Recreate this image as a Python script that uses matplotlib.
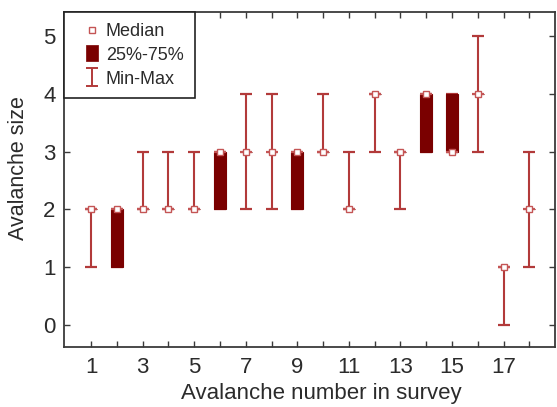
import matplotlib
matplotlib.use("Agg")
import matplotlib.pyplot as plt
from matplotlib.lines import Line2D
from matplotlib.path import Path

# Datos del gráfico
avalanchas = list(range(1, 19))
medianas = [2, 2, 2, 2, 2, 3, 3, 3, 3, 3, 2, 4, 3, 4, 3, 4, 1, 2]
cuartil_25 = [2, 1, 2, 2, 2, 2, 3, 3, 2, 3, 2, 4, 3, 3, 3, 4, 1, 2]
cuartil_75 = [2, 2, 2, 2, 2, 3, 3, 3, 3, 3, 2, 4, 3, 4, 4, 4, 1, 2]
minimos = [1, 1, 2, 2, 2, 2, 2, 2, 2, 3, 2, 3, 2, 3, 3, 3, 0, 1]
maximos = [2, 2, 3, 3, 3, 3, 4, 4, 3, 4, 3, 4, 3, 4, 4, 5, 1, 3]
etiquetas_x = [1, 3, 5, 7, 9, 11, 13, 15, 17]
etiquetas_y = [0, 1, 2, 3, 4, 5]

COLOR_CAJA = '#7a0000'
COLOR_BIGOTE = '#b23a3a'
COLOR_MEDIANA = '#c45555'
COLOR_TEXTO = '#2b2b2b'
COLOR_MARCO = '#3a3a3a'


def plot_boxes():
    plt.rcParams['font.family'] = ['Liberation Sans', 'DejaVu Sans']

    fig = plt.figure(figsize=(5.57, 4.07), dpi=100)
    ax = fig.add_axes([0.115, 0.147, 0.8815, 0.8235])

    # Bigotes min-max con sus topes
    ax.vlines(avalanchas, minimos, maximos, color=COLOR_BIGOTE, lw=1.5, zorder=2)
    ax.plot(avalanchas, minimos, linestyle='none', marker='_', ms=8, mew=1.6,
            color=COLOR_BIGOTE, zorder=2)
    ax.plot(avalanchas, maximos, linestyle='none', marker='_', ms=8, mew=1.6,
            color=COLOR_BIGOTE, zorder=2)

    # Cajas 25%-75% (solo donde hay rango)
    alturas = [q3 - q1 for q1, q3 in zip(cuartil_25, cuartil_75)]
    ax.bar(avalanchas, alturas, bottom=cuartil_25, width=0.46,
           color=COLOR_CAJA, edgecolor=COLOR_CAJA, lw=0.8, zorder=3)

    # Medianas
    ax.plot(avalanchas, medianas, linestyle='none', marker='_', ms=8, mew=1.6,
            color=COLOR_MEDIANA, zorder=4)
    ax.plot(avalanchas, medianas, linestyle='none', marker='s', ms=5,
            mfc='white', mec=COLOR_MEDIANA, mew=1.0, zorder=5)

    ax.set_xlim(-0.05, 19.0)
    ax.set_ylim(-0.38, 5.41)
    ax.set_xticks(avalanchas)
    ax.set_xticklabels([str(a) if a in etiquetas_x else '' for a in avalanchas])
    ax.set_yticks(etiquetas_y)

    ax.tick_params(direction='in', length=4, width=1.0, color=COLOR_MARCO,
                   labelsize=16, labelcolor=COLOR_TEXTO,
                   top=True, right=True)
    ax.tick_params(axis='x', pad=7)
    ax.tick_params(axis='y', pad=6)
    for lado in ax.spines.values():
        lado.set_color(COLOR_MARCO)
        lado.set_linewidth(1.3)

    ax.set_xlabel('Avalanche number in survey', fontsize=16, color=COLOR_TEXTO)
    ax.set_ylabel('Avalanche size', fontsize=15.5, color=COLOR_TEXTO)
    ax.xaxis.set_label_coords(0.523, -0.107)
    ax.yaxis.set_label_coords(-0.072, 0.534)

    # Leyenda con símbolos personalizados
    simbolo_minmax = Path([(-0.7, -1), (0.7, -1), (0, -1), (0, 1), (-0.7, 1), (0.7, 1)],
                          [Path.MOVETO, Path.LINETO, Path.MOVETO, Path.LINETO,
                           Path.MOVETO, Path.LINETO])
    simbolo_caja = Path([(-0.8, -1), (0.8, -1), (0.8, 1), (-0.8, 1), (-0.8, -1)],
                        [Path.MOVETO, Path.LINETO, Path.LINETO, Path.LINETO,
                         Path.CLOSEPOLY])
    handles = [
        Line2D([], [], linestyle='none', marker='s', ms=5, mfc='white',
               mec=COLOR_MEDIANA, mew=1.0),
        Line2D([], [], linestyle='none', marker=simbolo_caja, ms=11.5,
               mfc=COLOR_CAJA, mec=COLOR_CAJA, mew=0.5),
        Line2D([], [], linestyle='none', marker=simbolo_minmax, ms=13,
               mec=COLOR_BIGOTE, mew=1.4),
    ]
    leyenda = ax.legend(handles, ['Median', '25%-75%', 'Min-Max'],
                        loc='upper left', borderaxespad=0, fancybox=False,
                        framealpha=1, edgecolor='#222222', fontsize=13,
                        handlelength=1.9, handletextpad=-0.18, labelspacing=0.38,
                        borderpad=0.6, labelcolor=COLOR_TEXTO)
    leyenda.get_frame().set_linewidth(1.2)
    leyenda.set_zorder(10)

    fig.savefig('out.png', dpi=100)


if __name__ == "__main__":
    plot_boxes()
